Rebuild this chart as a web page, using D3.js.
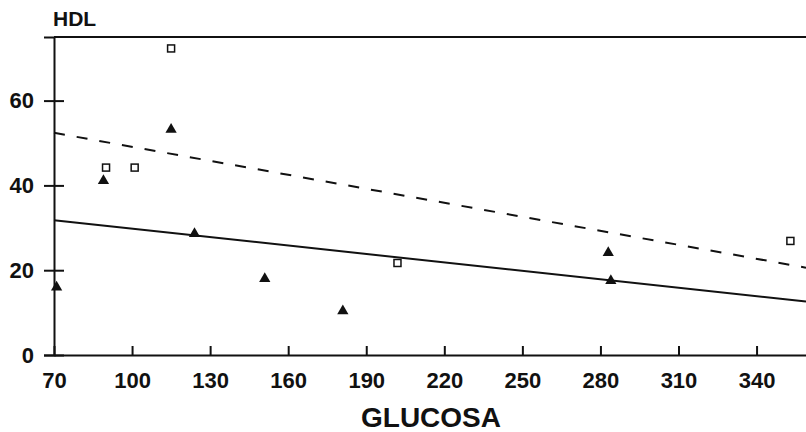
<!DOCTYPE html>
<html>
<head>
<meta charset="utf-8">
<script src="https://cdn.jsdelivr.net/npm/d3@7"></script>
<style>
    body { margin: 0; background: #fff; }
    svg { display: block; font-family: "Liberation Sans", Arial, sans-serif; }
    .axis text { font-size: 22px; font-weight: bold; fill: #111; }
    .axis path, .axis line { stroke: #111; stroke-width: 2; }
</style>
</head>
<body>
<div id="chart"></div>
<script>
// squares (open) and triangles (filled)
const squareGlucosa = [90, 101, 115, 202, 353];
const squareHdl = [44.2, 44.2, 72.3, 21.7, 26.9];
const triangleGlucosa = [71, 89, 115, 124, 151, 181, 283, 284];
const triangleHdl = [16, 41.1, 53.2, 28.6, 18, 10.4, 24.1, 17.5];
// regression lines, end points
const dashedLine = [[70, 52.4], [359, 20.6]];
const solidLine = [[70, 31.8], [359, 12.6]];
const xTicks = [70, 100, 130, 160, 190, 220, 250, 280, 310, 340];
const yTicks = [0, 20, 40, 60];

const width = 806, height = 432;
const margin = { top: 37, right: 0, bottom: 77, left: 54 };

const svg = d3.select("#chart").append("svg")
    .attr("width", width)
    .attr("height", height);

const x = d3.scaleLinear()
    .domain([70, 359])
    .range([margin.left, width - margin.right]);
const y = d3.scaleLinear()
    .domain([0, 75])
    .range([height - margin.bottom, margin.top]);

// top border
svg.append("line")
    .attr("x1", x(70)).attr("x2", width)
    .attr("y1", y(75)).attr("y2", y(75))
    .attr("stroke", "#111").attr("stroke-width", 2);

const xAxis = d3.axisBottom(x).tickValues(xTicks).tickSizeInner(-9).tickSizeOuter(0).tickPadding(17);
svg.append("g")
    .attr("class", "axis")
    .attr("transform", `translate(0,${ y(0) })`)
    .call(xAxis);

const yAxis = d3.axisLeft(y).tickValues(yTicks).tickSize(10).tickPadding(10);
const gy = svg.append("g")
    .attr("class", "axis")
    .attr("transform", `translate(${ x(70) },0)`)
    .call(yAxis);
gy.selectAll(".tick line").attr("x1", 10); // ticks cross the axis

svg.append("text")
    .attr("x", 53).attr("y", 26)
    .attr("font-size", 21).attr("font-weight", "bold").attr("fill", "#111")
    .text("HDL");

svg.append("text")
    .attr("x", 431).attr("y", 427)
    .attr("text-anchor", "middle")
    .attr("font-size", 28).attr("font-weight", "bold").attr("fill", "#111")
    .text("GLUCOSA");

const line = d3.line()
    .x(d => x(d[0]))
    .y(d => y(d[1]));

svg.append("path")
    .attr("d", line(dashedLine))
    .attr("fill", "none").attr("stroke", "#111").attr("stroke-width", 2)
    .attr("stroke-dasharray", "11,12");

svg.append("path")
    .attr("d", line(solidLine))
    .attr("fill", "none").attr("stroke", "#111").attr("stroke-width", 2);

svg.selectAll(".sq")
    .data(squareGlucosa)
    .join("rect")
    .attr("class", "sq")
    .attr("x", (d, i) => x(d) - 3.5)
    .attr("y", (d, i) => y(squareHdl[i]) - 3.5)
    .attr("width", 7).attr("height", 7)
    .attr("fill", "#fff").attr("stroke", "#111").attr("stroke-width", 1.5);

const tri = d3.symbol().type(d3.symbolTriangle).size(55);
svg.selectAll(".tri")
    .data(triangleGlucosa)
    .join("path")
    .attr("class", "tri")
    .attr("d", tri)
    .attr("transform", (d, i) => `translate(${ x(d) },${ y(triangleHdl[i]) })`)
    .attr("fill", "#111");
</script>
</body>
</html>
